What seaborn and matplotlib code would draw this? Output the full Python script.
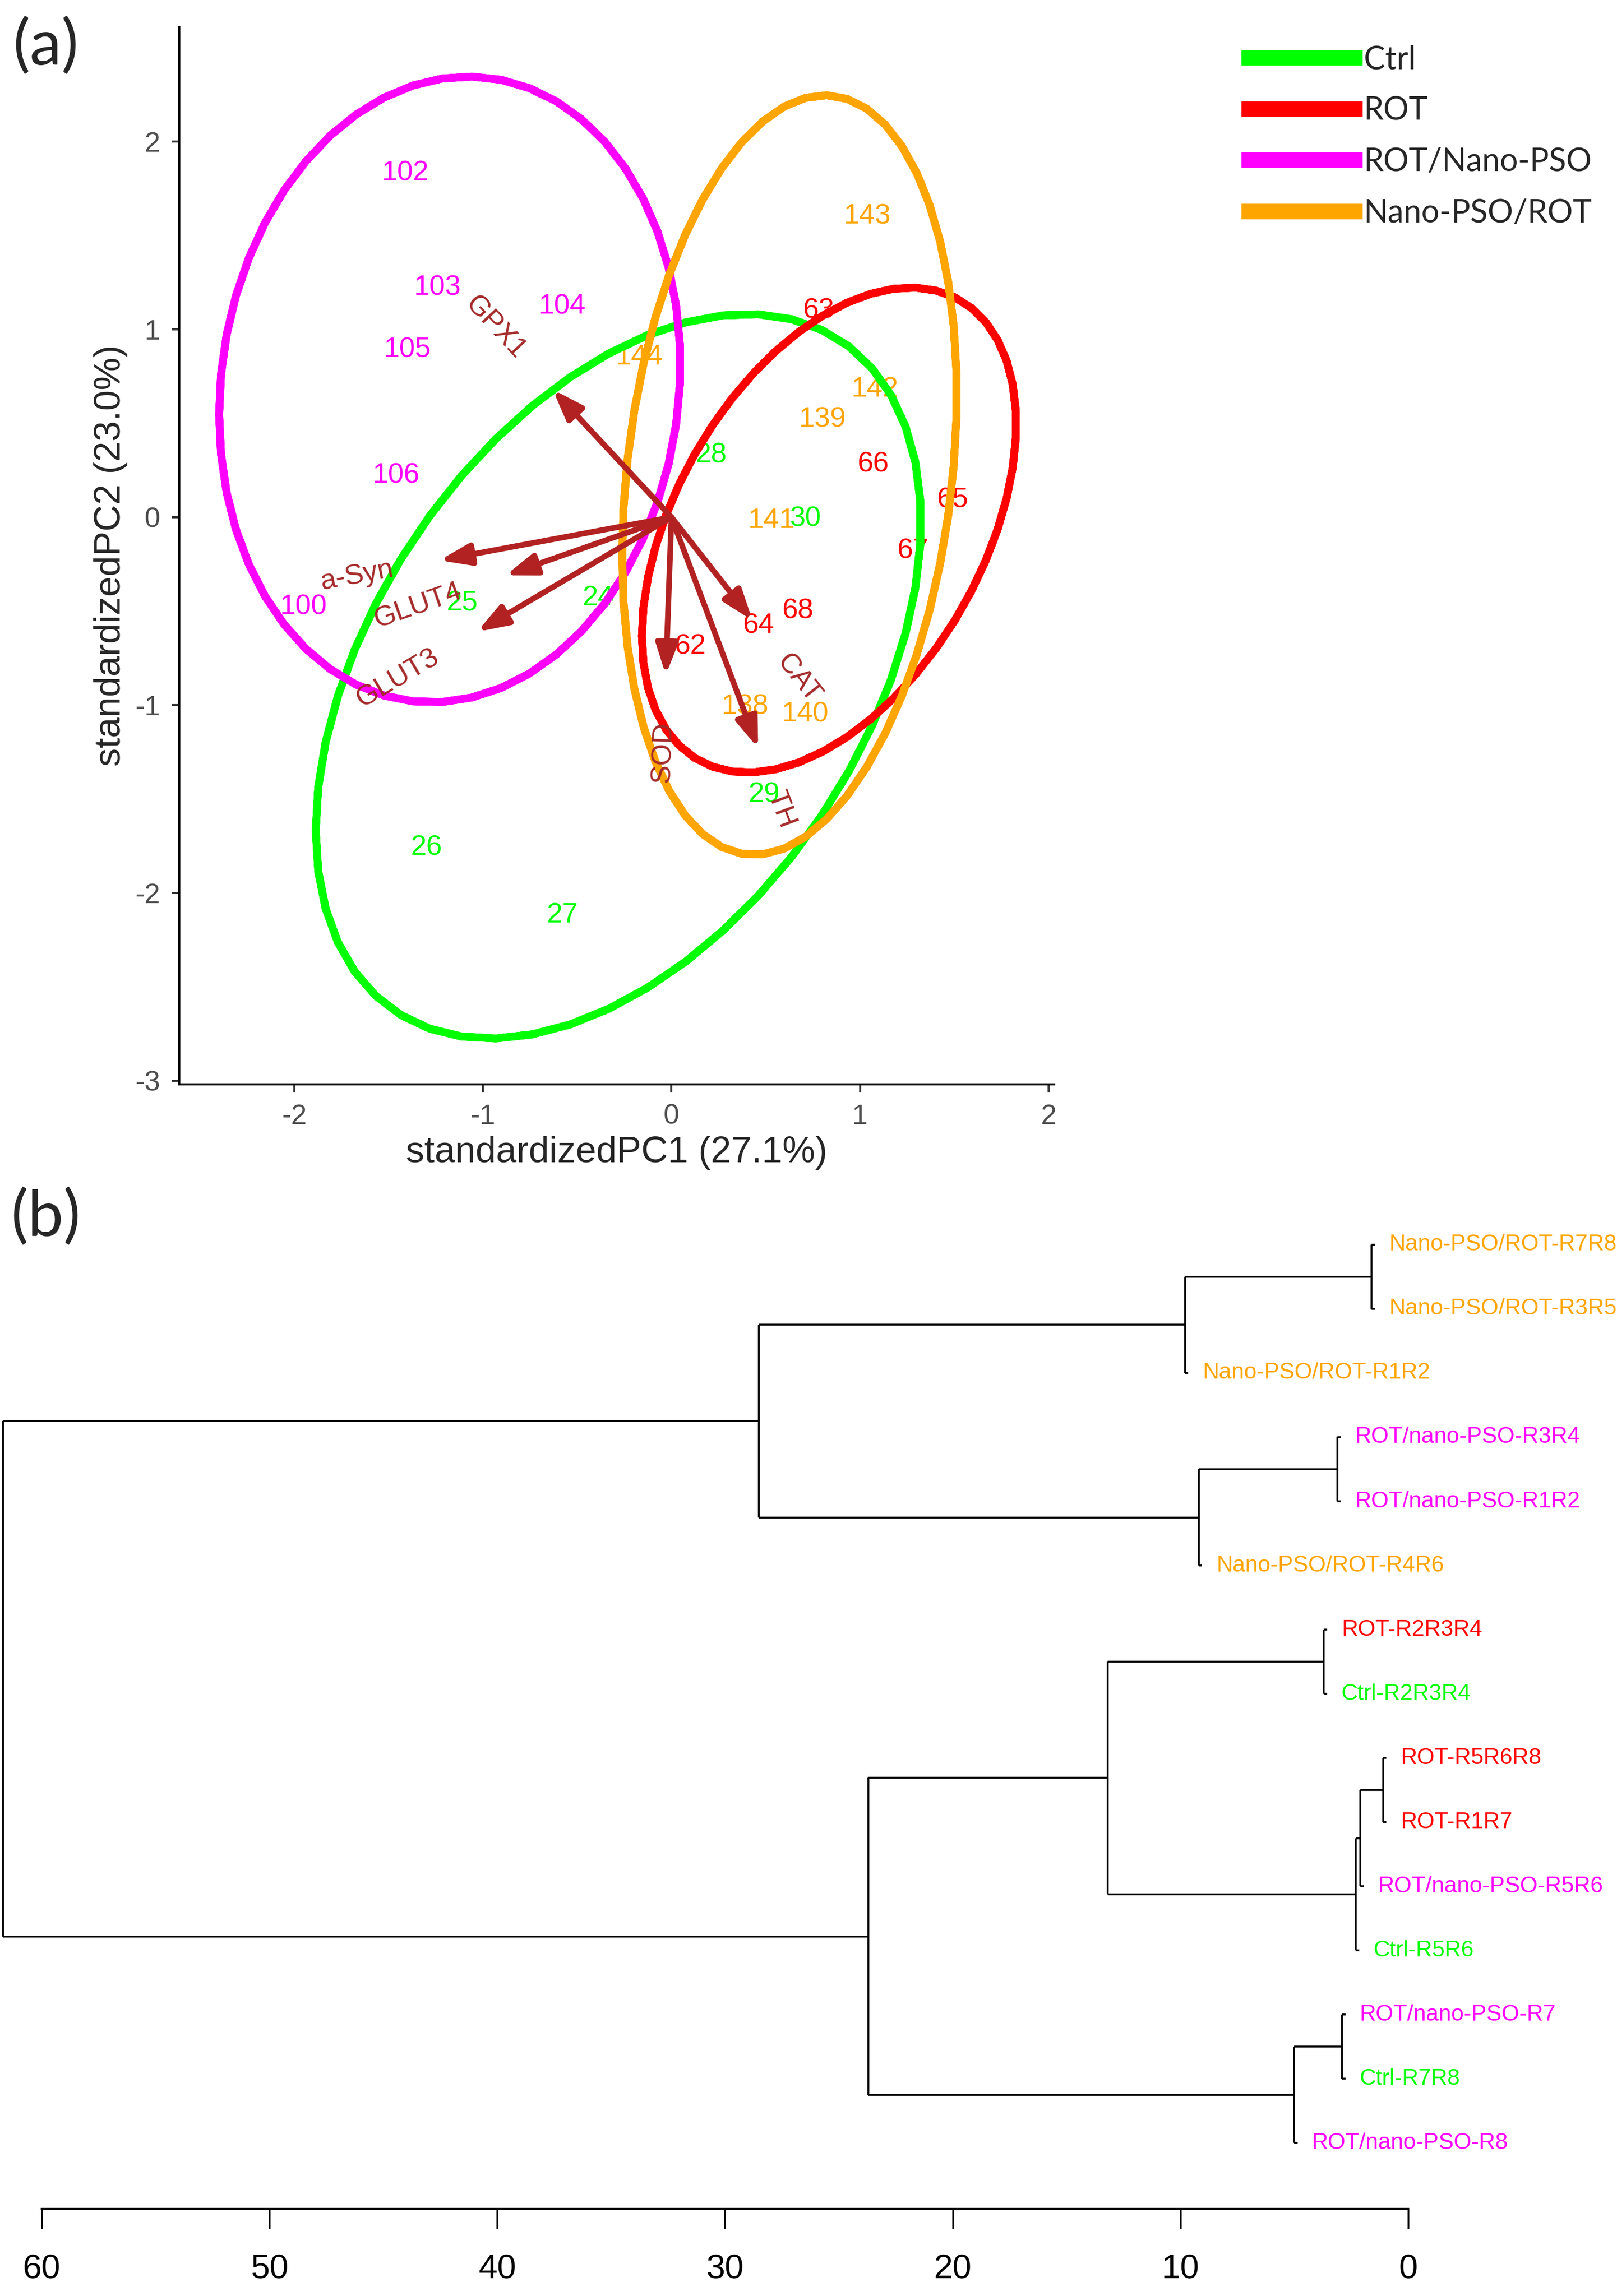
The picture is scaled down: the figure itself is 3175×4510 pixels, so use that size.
import numpy as np
import pandas as pd
import matplotlib
matplotlib.use("Agg")
import matplotlib.pyplot as plt
from matplotlib.lines import Line2D
import seaborn as sns

# ── 1. PCA SCORES (panel a) ───────────────────────────────
ctrl_ids = ["24", "25", "26", "27", "28", "29", "30"]
ctrl_pc1 = [-0.39, -1.11, -1.30, -0.58, 0.21, 0.49, 0.71]
ctrl_pc2 = [-0.43, -0.46, -1.76, -2.12, 0.33, -1.48, -0.01]

rot_ids = ["62", "63", "64", "65", "66", "67", "68"]
rot_pc1 = [0.10, 0.78, 0.46, 1.49, 1.07, 1.28, 0.67]
rot_pc2 = [-0.69, 1.10, -0.58, 0.09, 0.28, -0.18, -0.50]

# 101 sits under the arrow fan: it shapes the ellipse but its label is not visible
rotnano_ids = ["100", "101", "102", "103", "104", "105", "106"]
rotnano_pc1 = [-1.95, -0.19, -1.41, -1.24, -0.58, -1.40, -1.46]
rotnano_pc2 = [-0.48, -0.04, 1.83, 1.22, 1.12, 0.89, 0.22]
hidden_ids = ["101"]

nanorot_ids = ["138", "139", "140", "141", "142", "143", "144"]
nanorot_pc1 = [0.39, 0.80, 0.71, 0.53, 1.08, 1.04, -0.17]
nanorot_pc2 = [-1.01, 0.52, -1.05, -0.02, 0.68, 1.60, 0.85]

# variable loadings (arrow tips)
var_names = ["GPX1", "a-Syn", "GLUT4", "GLUT3", "SOD", "TH", "CAT"]
var_pc1 = [-0.63, -1.23, -0.88, -1.03, -0.03, 0.46, 0.43]
var_pc2 = [0.68, -0.23, -0.31, -0.61, -0.84, -1.23, -0.55]

groups = ["Ctrl", "ROT", "ROT/Nano-PSO", "Nano-PSO/ROT"]
group_colors = ["#00FF00", "#FF0000", "#FF00FF", "#FFA500"]
ellipse_prob = 0.88

# ── 2. CLUSTER TREE (panel b) ─────────────────────────────
leaf_labels = [
    "Nano-PSO/ROT-R7R8", "Nano-PSO/ROT-R3R5", "Nano-PSO/ROT-R1R2",
    "ROT/nano-PSO-R3R4", "ROT/nano-PSO-R1R2", "Nano-PSO/ROT-R4R6",
    "ROT-R2R3R4", "Ctrl-R2R3R4", "ROT-R5R6R8", "ROT-R1R7",
    "ROT/nano-PSO-R5R6", "Ctrl-R5R6", "ROT/nano-PSO-R7", "Ctrl-R7R8",
    "ROT/nano-PSO-R8",
]
leaf_groups = [3, 3, 3, 2, 2, 3, 1, 0, 1, 1, 2, 0, 2, 0, 2]
# (child a, child b, height); ids >= 15 are earlier merges
merges = [
    (0, 1, 1.6), (15, 2, 9.8), (3, 4, 3.1), (17, 5, 9.2), (16, 18, 28.5),
    (6, 7, 3.7), (8, 9, 1.1), (21, 10, 2.1), (22, 11, 2.3), (20, 23, 13.2),
    (12, 13, 2.9), (25, 14, 5.0), (24, 26, 23.7), (19, 27, 61.7),
]
height_ticks = [0, 10, 20, 30, 40, 50, 60]

# ── 3. FIGURE ─────────────────────────────────────────────
sns.set_theme(style="ticks")
plt.rcParams["font.family"] = ["Liberation Sans", "DejaVu Sans"]

W, H = 3175, 4510
fig = plt.figure(figsize=(W / 100, H / 100), dpi=100)

df = pd.concat([
    pd.DataFrame({"pc1": ctrl_pc1, "pc2": ctrl_pc2, "id": ctrl_ids, "group": groups[0]}),
    pd.DataFrame({"pc1": rot_pc1, "pc2": rot_pc2, "id": rot_ids, "group": groups[1]}),
    pd.DataFrame({"pc1": rotnano_pc1, "pc2": rotnano_pc2, "id": rotnano_ids, "group": groups[2]}),
    pd.DataFrame({"pc1": nanorot_pc1, "pc2": nanorot_pc2, "id": nanorot_ids, "group": groups[3]}),
], ignore_index=True)
palette = dict(zip(groups, group_colors))

# ellipses like ggbiplot: circle %*% chol(cov) * sqrt(qchisq(p, 2)) + mean
theta = np.concatenate([np.linspace(-np.pi, np.pi, 50), np.linspace(np.pi, -np.pi, 50)])
circle = np.column_stack([np.cos(theta), np.sin(theta)])
ed = np.sqrt(-2 * np.log(1 - ellipse_prob))
ell_parts = []
for g in groups:
    sub = df[df["group"] == g]
    sigma = np.cov(sub["pc1"], sub["pc2"])
    mu = np.array([sub["pc1"].mean(), sub["pc2"].mean()])
    pts = circle @ np.linalg.cholesky(sigma).T * ed + mu
    ell_parts.append(pd.DataFrame({"x": pts[:, 0], "y": pts[:, 1], "group": g}))
ell = pd.concat(ell_parts, ignore_index=True)

ax = fig.add_axes([352 / W, 1 - 2130 / H, (2070 - 352) / W, (2130 - 53) / H])
sns.lineplot(data=ell, x="x", y="y", hue="group", units="group", palette=palette,
             sort=False, estimator=None, lw=11, legend=False, ax=ax, zorder=2)

for _, r in df.iterrows():
    if r["id"] in hidden_ids:
        continue
    ax.text(r["pc1"], r["pc2"], r["id"], color=palette[r["group"]], fontsize=40,
            ha="center", va="center", zorder=1)

for name, vx, vy in zip(var_names, var_pc1, var_pc2):
    ax.annotate("", xy=(vx, vy), xytext=(0, 0),
                arrowprops=dict(arrowstyle="-|>,head_length=0.9,head_width=0.32",
                                color="#B22222", lw=8, mutation_scale=40,
                                shrinkA=0, shrinkB=0),
                zorder=3)
    ln = np.hypot(vx, vy)
    gap = 0.25
    lx, ly = vx + vx / ln * gap, vy + vy / ln * gap
    ang = np.degrees(np.arctan(vy / vx))
    ax.text(lx, ly, name, color="#A52A2A", fontsize=40, rotation=ang,
            rotation_mode="anchor", ha="left" if vx > 0 else "right",
            va="center", zorder=4)

ax.set_xlim(-2.61, 2.03)
ax.set_ylim(-3.02, 2.61)
ax.set_xticks([-2, -1, 0, 1, 2])
ax.set_yticks([-3, -2, -1, 0, 1, 2])
ax.set_xticklabels(["-2", "-1", "0", "1", "2"])
ax.set_yticklabels(["-3", "-2", "-1", "0", "1", "2"])
ax.tick_params(labelsize=40, labelcolor="#4D4D4D", length=11, width=3,
               color="#333333", pad=16)
for s in ["left", "bottom"]:
    ax.spines[s].set_linewidth(3)
    ax.spines[s].set_color("black")
sns.despine(ax=ax)
ax.set_xlabel("standardizedPC1 (27.1%)", fontsize=52, labelpad=8)
ax.set_ylabel("standardizedPC2 (23.0%)", fontsize=52, labelpad=10)

handles = [Line2D([0], [0], color=c, lw=22, solid_capstyle="butt") for c in group_colors]
fig.legend(handles, groups, loc="upper left", bbox_to_anchor=(2437 / W, 1 - 88 / H),
           frameon=False, handlelength=3.8, handletextpad=0.05, labelspacing=0.68,
           borderpad=0, borderaxespad=0,
           prop={"family": ["Lato", "DejaVu Sans"], "size": 45})

fig.text(90 / W, 1 - 90 / H, "(a)", fontsize=90, family=["Lato", "DejaVu Sans"],
         ha="center", va="center")
fig.text(90 / W, 1 - 2390 / H, "(b)", fontsize=90, family=["Lato", "DejaVu Sans"],
         ha="center", va="center")

# ── 4. DENDROGRAM ─────────────────────────────────────────
ax2 = fig.add_axes([0, 1 - 4339 / H, 1, (4339 - 2300) / H])
n_leaf = len(leaf_labels)
leaf_hang = 0.15
node_h = {i: 0.0 for i in range(n_leaf)}
node_y = {i: float(i) for i in range(n_leaf)}
leaf_x = {}
for k, (a, b, h) in enumerate(merges):
    nid = n_leaf + k
    node_h[nid] = h
    node_y[nid] = (node_y[a] + node_y[b]) / 2
    for c in (a, b):
        cx = node_h[c] if c >= n_leaf else h - leaf_hang
        if c < n_leaf:
            leaf_x[c] = cx
        ax2.plot([h, cx], [node_y[c], node_y[c]], color="black", lw=2.6,
                 solid_capstyle="butt")
    ax2.plot([h, h], [node_y[a], node_y[b]], color="black", lw=2.6,
             solid_capstyle="butt")

for i, lab in enumerate(leaf_labels):
    ax2.annotate(lab, (leaf_x[i], i), xytext=(20, 0), textcoords="offset points",
                 ha="left", va="center", fontsize=32,
                 color=group_colors[leaf_groups[i]])

ax2.set_xlim(61.83, -9.17)
ax2.set_ylim(15.03, -1.15)
ax2.set_yticks([])
ax2.set_xticks(height_ticks)
ax2.set_xticklabels([str(t) for t in height_ticks])
ax2.tick_params(axis="x", labelsize=48, length=28, width=2.5, color="black",
                labelcolor="black", pad=36, direction="out")
for s in ["top", "right", "left"]:
    ax2.spines[s].set_visible(False)
ax2.spines["bottom"].set_bounds(0, 60)
ax2.spines["bottom"].set_linewidth(3)
ax2.spines["bottom"].set_color("black")
ax2.patch.set_alpha(0)

fig.savefig("out.png", dpi=100)
